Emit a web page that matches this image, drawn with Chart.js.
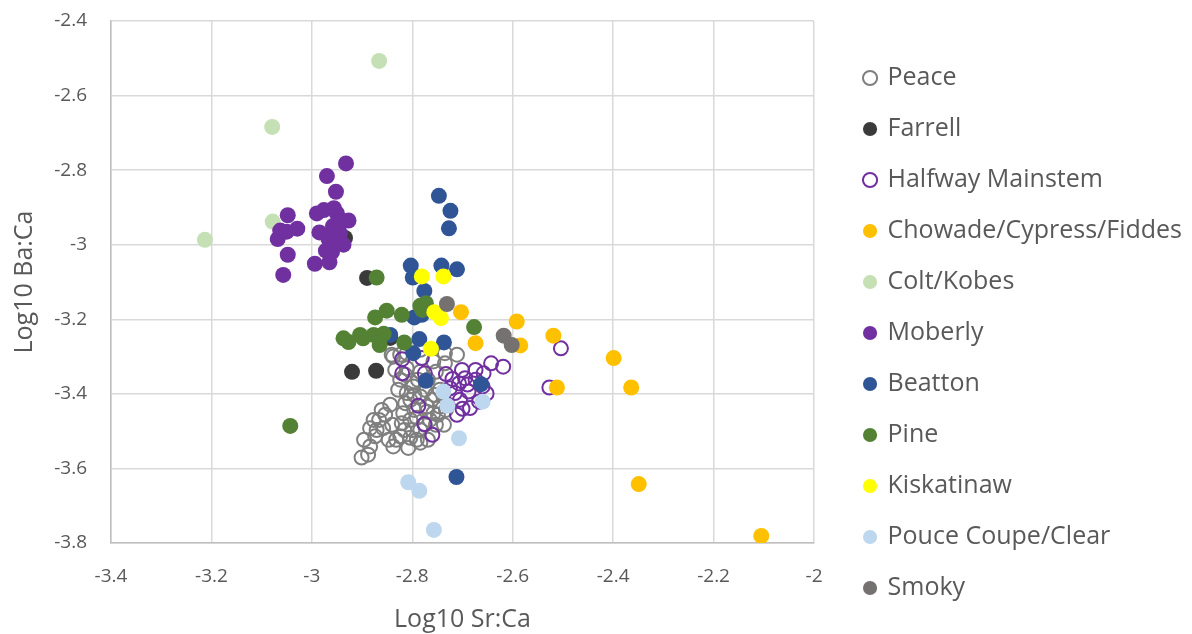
<!DOCTYPE html>
<html>
<head>
<meta charset="utf-8">
<script src="https://cdn.jsdelivr.net/npm/chart.js@4.4.0/dist/chart.umd.min.js"></script>
<style>
  html, body { margin: 0; padding: 0; background: #fff; }
  #box { width: 1192px; height: 634px; }
</style>
</head>
<body>
<div id="box"><canvas id="grafico"></canvas></div>
<script>
// serie: Log10 Sr:Ca (x) e Log10 Ba:Ca (y)
var nomiSerie = ['Peace', 'Farrell', 'Halfway Mainstem', 'Chowade/Cypress/Fiddes', 'Colt/Kobes',
  'Moberly', 'Beatton', 'Pine', 'Kiskatinaw', 'Pouce Coupe/Clear', 'Smoky'];

var peaceX = [-2.901, -2.884, -2.861, -2.877, -2.884, -2.871, -2.858, -2.874, -2.838, -2.824, -2.821, -2.818,
  -2.814, -2.811, -2.798, -2.784, -2.771, -2.758, -2.745, -2.738, -2.784, -2.791, -2.765, -2.838, -2.811,
  -2.758, -2.735, -2.711, -2.811, -2.841, -2.824, -2.804, -2.800, -2.775, -2.796, -2.775, -2.761, -2.789,
  -2.824, -2.834, -2.828, -2.753, -2.804, -2.784, -2.854, -2.840, -2.847, -2.896, -2.888, -2.866, -2.745,
  -2.753, -2.804, -2.771, -2.796, -2.816, -2.814, -2.800, -2.784, -2.769, -2.755, -2.749, -2.769, -2.808,
  -2.832, -2.844, -2.791, -2.737, -2.733, -2.784, -2.735];
var peaceY = [-3.571, -3.541, -3.443, -3.470, -3.492, -3.497, -3.492, -3.514, -3.541, -3.514, -3.479, -3.452,
  -3.425, -3.398, -3.380, -3.407, -3.434, -3.452, -3.434, -3.407, -3.497, -3.523, -3.470, -3.300, -3.291,
  -3.313, -3.318, -3.295, -3.331, -3.295, -3.295, -3.470, -3.497, -3.483, -3.443, -3.389, -3.416, -3.362,
  -3.362, -3.336, -3.389, -3.483, -3.518, -3.531, -3.456, -3.483, -3.523, -3.523, -3.563, -3.470, -3.389,
  -3.341, -3.416, -3.448, -3.403, -3.497, -3.349, -3.371, -3.341, -3.362, -3.403, -3.456, -3.523, -3.545,
  -3.523, -3.429, -3.464, -3.483, -3.443, -3.282, -3.291];

var farrellX = [-2.890, -2.920, -2.872, -2.844, -2.934];
var farrellY = [-3.089, -3.341, -3.338, -3.250, -2.982];

var halfwayX = [-2.504, -2.527, -2.619, -2.643, -2.820, -2.820, -2.775, -2.781, -2.733, -2.701, -2.674, -2.658,
  -2.652, -2.707, -2.688, -2.705, -2.685, -2.711, -2.788, -2.776, -2.760, -2.667, -2.715, -2.695, -2.674,
  -2.725, -2.690, -2.720, -2.660, -2.700];
var halfwayY = [-3.278, -3.383, -3.327, -3.318, -3.307, -3.345, -3.345, -3.304, -3.347, -3.336, -3.336, -3.345,
  -3.399, -3.372, -3.394, -3.416, -3.438, -3.456, -3.432, -3.481, -3.510, -3.421, -3.398, -3.358, -3.362,
  -3.385, -3.375, -3.360, -3.380, -3.440];

var chowadeX = [-2.703, -2.592, -2.674, -2.585, -2.519, -2.512, -2.399, -2.364, -2.349, -2.105];
var chowadeY = [-3.181, -3.206, -3.264, -3.270, -3.244, -3.383, -3.304, -3.383, -3.642, -3.781];

var coltX = [-2.866, -3.079, -3.213, -3.078];
var coltY = [-2.507, -2.684, -2.987, -2.938];

var moberlyX = [-2.932, -2.970, -2.952, -2.990, -2.976, -2.956, -2.950, -2.927, -3.048, -3.029, -3.063, -3.068,
  -3.050, -2.985, -2.967, -2.944, -2.937, -2.964, -2.972, -3.048, -2.994, -2.965, -3.057, -2.958, -2.944, -2.960];
var moberlyY = [-2.782, -2.816, -2.858, -2.916, -2.907, -2.902, -2.916, -2.935, -2.921, -2.957, -2.962, -2.985,
  -2.965, -2.967, -2.983, -2.969, -3.000, -2.996, -3.016, -3.027, -3.051, -3.047, -3.081, -2.950, -2.940, -3.020];

var beattonX = [-2.747, -2.724, -2.727, -2.803, -2.742, -2.711, -2.799, -2.776, -2.796, -2.781, -2.844, -2.786,
  -2.737, -2.798, -2.773, -2.663, -2.712];
var beattonY = [-2.869, -2.909, -2.956, -3.056, -3.056, -3.066, -3.088, -3.124, -3.195, -3.188, -3.242, -3.253,
  -3.262, -3.291, -3.365, -3.374, -3.623];

var pineX = [-2.871, -2.784, -2.773, -2.851, -2.821, -2.874, -2.677, -2.937, -2.927, -2.904, -2.877, -2.857,
  -2.865, -2.816, -2.898, -3.043, -2.780];
var pineY = [-3.088, -3.164, -3.157, -3.177, -3.188, -3.195, -3.221, -3.251, -3.261, -3.242, -3.242, -3.239,
  -3.269, -3.262, -3.251, -3.486, -3.175];

var kiskX = [-2.781, -2.738, -2.756, -2.743, -2.763];
var kiskY = [-3.085, -3.085, -3.181, -3.197, -3.279];

var pouceX = [-2.738, -2.730, -2.660, -2.707, -2.808, -2.786, -2.757];
var pouceY = [-3.394, -3.432, -3.421, -3.519, -3.637, -3.660, -3.765];

var smokyX = [-2.731, -2.618, -2.602];
var smokyY = [-3.159, -3.244, -3.269];

var tuttiX = [peaceX, farrellX, halfwayX, chowadeX, coltX, moberlyX, beattonX, pineX, kiskX, pouceX, smokyX];
var tuttiY = [peaceY, farrellY, halfwayY, chowadeY, coltY, moberlyY, beattonY, pineY, kiskY, pouceY, smokyY];
var colori = ['#7F7F7F', '#3A3A3A', '#7030A0', '#FFC000', '#C5E0B4', '#7030A0', '#2F5597', '#548235',
  '#FFFF00', '#BDD7EE', '#767171'];
var vuoti = [true, false, true, false, false, false, false, false, false, false, false];

var testo = '#595959';
var font = 'Open Sans';
var fontLegenda = 25;
var padLegenda = 26;

// costruisco i dataset
var datasets = [];
for (var i = 0; i < nomiSerie.length; i++) {
  var punti = [];
  for (var j = 0; j < tuttiX[i].length; j++) {
    punti.push({ x: tuttiX[i][j], y: tuttiY[i][j] });
  }
  datasets.push({
    label: nomiSerie[i],
    data: punti,
    order: nomiSerie.length - i,
    pointStyle: 'circle',
    pointRadius: vuoti[i] ? 7 : 8,
    pointHoverRadius: vuoti[i] ? 7 : 8,
    pointBorderWidth: vuoti[i] ? 2 : 0,
    pointBackgroundColor: vuoti[i] ? 'rgba(255,255,255,0)' : colori[i],
    pointBorderColor: colori[i],
    backgroundColor: vuoti[i] ? 'rgba(255,255,255,0)' : colori[i],
    borderColor: colori[i]
  });
}

function etichetta(v) {
  return String(Number(v.toFixed(1)));
}

// larghezza della legenda, per lasciare lo spazio giusto tra grafico e legenda
var misura = document.createElement('canvas').getContext('2d');
misura.font = fontLegenda + 'px "' + font + '"';
var testoMax = 0;
for (var k = 0; k < nomiSerie.length; k++) {
  testoMax = Math.max(testoMax, misura.measureText(nomiSerie[k]).width);
}
var largLegenda = padLegenda + 10 + fontLegenda / 2 + testoMax + 10;
var spazioDestra = Math.max(0, 1192 - 814 - largLegenda);

var ctx = document.getElementById('grafico');
var grafico = new Chart(ctx, {
  type: 'scatter',
  data: { datasets: datasets },
  options: {
    responsive: true,
    maintainAspectRatio: false,
    animation: false,
    layout: { padding: { top: 11, left: 6, right: 0, bottom: 0 } },
    plugins: {
      tooltip: { enabled: false },
      legend: {
        position: 'right',
        reverse: true,
        maxWidth: 420,
        title: { display: true, text: '', font: { size: 10 }, padding: { top: 4.5, bottom: 4.5 } },
        labels: {
          usePointStyle: true,
          boxWidth: 10,
          boxHeight: 10,
          padding: padLegenda,
          color: testo,
          font: { family: font, size: fontLegenda }
        }
      }
    },
    scales: {
      x: {
        type: 'linear',
        min: -3.4,
        max: -2,
        afterFit: function(s) { s.height = 91; },
        ticks: { stepSize: 0.2, callback: etichetta, color: testo, padding: 22,
          font: { family: font, size: 19 }, maxRotation: 0 },
        grid: { color: '#D9D9D9', lineWidth: 1.5, drawTicks: false },
        border: { color: '#BFBFBF', width: 1.5 },
        title: { display: true, text: 'Log10 Sr:Ca', color: testo, padding: { top: 4, bottom: 1.5 },
          font: { family: font, size: 25, lineHeight: 1 } }
      },
      y: {
        type: 'linear',
        min: -3.8,
        max: -2.4,
        afterFit: function(s) { s.width = 105; s.paddingTop = 21; s.paddingBottom = 12; },
        ticks: { stepSize: 0.2, callback: etichetta, color: testo, padding: 24,
          font: { family: font, size: 19 } },
        grid: { color: '#D9D9D9', lineWidth: 1.5, drawTicks: false },
        border: { color: '#BFBFBF', width: 1.5 },
        title: { display: true, text: 'Log10 Ba:Ca', color: testo, padding: { top: 6.5, bottom: 4 },
          font: { family: font, size: 25, lineHeight: 1 } }
      },
      spazio: {
        type: 'linear',
        position: 'right',
        display: true,
        afterFit: function(s) { s.width = spazioDestra; },
        ticks: { display: false },
        grid: { display: false },
        border: { display: false }
      }
    }
  }
});
</script>
</body>
</html>
